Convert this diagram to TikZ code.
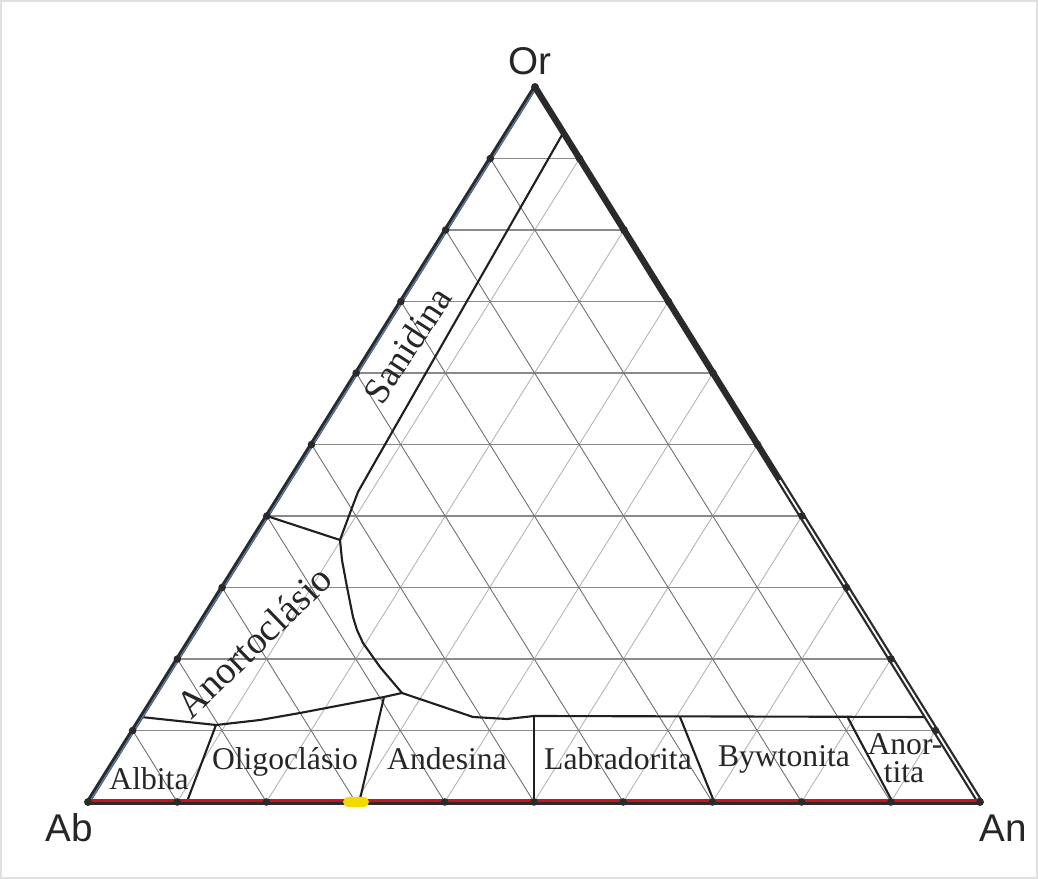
\documentclass[tikz,border=0pt]{standalone}
\usepackage{fontspec}
\setmainfont{Liberation Serif}
\newfontfamily\labsans{Liberation Sans}
\usetikzlibrary{calc}
\definecolor{gridD}{HTML}{6E6E6E}
\definecolor{gridL}{HTML}{B4B4B4}
\definecolor{gridH}{HTML}{8A8A8A}
\definecolor{edgec}{HTML}{2A2A2A}
\definecolor{redline}{HTML}{C81420}
\definecolor{yel}{HTML}{F5D800}
\definecolor{bluetint}{HTML}{5A7FB0}
\begin{document}
\begin{tikzpicture}[x=0.01cm,y=-0.01cm,
  hgrid/.style={draw=gridH,line width=0.3pt},
  dgrid/.style={draw=gridD,line width=0.25pt},
  lgrid/.style={draw=gridL,line width=0.25pt},
  bnd/.style={draw=black!88,line width=0.6pt,line join=round},
  vlab/.style={font=\labsans\fontsize{11}{12}\selectfont,text=black!85,inner sep=0pt},
  flab/.style={font=\fontsize{9}{10}\selectfont,text=black!85,inner sep=0pt,anchor=base},
  tdot/.style={fill=edgec,draw=none}]
\useasboundingbox (0,0) rectangle (1038,879);
\fill[white] (0,0) rectangle (1038,879);
\draw[black!12,line width=0.4pt] (1,1) rectangle (1037,878);
\coordinate (Ab) at (88,802);
\coordinate (An) at (980,802);
\coordinate (Or) at (535,87);
% grid
\foreach \k [evaluate=\k as \f using \k/10, evaluate=\k as \g using 1-\k/10] in {1,...,9} {
  \draw[hgrid] ($(Ab)!\f!(Or)$) -- ($(An)!\f!(Or)$);
  \draw[lgrid] ($(Ab)!\f!(An)$) -- ($(An)!\g!(Or)$);
  \draw[dgrid] ($(Ab)!\f!(An)$) -- ($(Ab)!\f!(Or)$);
}
% field boundaries
\coordinate (sTop) at (562,135);
\coordinate (kink) at (340,540);
\coordinate (node) at (402,693);
\coordinate (lA) at ($(Ab)!0.4!(Or)$);
\coordinate (lB) at (141,717);
\coordinate (alb) at (216,725);
\coordinate (oli) at (384,697);
\coordinate (lab) at (534,716);
\coordinate (rEnd) at (927,717);
\draw[bnd] (sTop) -- (375,462) -- (358,492) -- (350,513) -- (kink);
\draw[bnd] (lA) -- (kink);
\draw[bnd] (kink) -- (342,560) -- (347,587) -- (353,617) -- (357,630) -- (363,643) -- (380,667) -- (node);
\draw[bnd] (lB) -- (alb) -- (260,720) -- (300,713) -- (oli) -- (node);
\draw[bnd] (node) -- (473,717) -- (507,719) -- (lab) -- (rEnd);
\draw[bnd] (alb) -- (188,799);
\draw[bnd] (oli) -- (360,799);
\draw[bnd] (lab) -- (534,799);
\draw[bnd] (680,717) -- (713,799);
\draw[bnd] (848,718) -- (891,799);
% triangle edges
\draw[edgec,line width=1.3pt,line cap=round] (Ab) -- (Or);
\draw[bluetint,line width=0.35pt] ([xshift=0.015cm]Ab) -- ([xshift=0.015cm]Or);
\draw[edgec,line width=1.8pt,line cap=round] (Or) -- (An);
\draw[white,line width=0.5pt] ($(Or)!0.55!(An)$) -- ($(Or)!0.995!(An)$);
\draw[edgec,line width=1.5pt] (Ab) -- (An);
\draw[redline,line width=0.9pt] ([yshift=0.4pt]Ab) -- ([yshift=0.4pt]An);
% ticks
\foreach \k [evaluate=\k as \f using \k/10] in {0,...,10} {
  \fill[tdot] ($(Ab)!\f!(An)$) circle (3.8);
  \fill[tdot] ($(Ab)!\f!(Or)$) circle (3.8);
  \fill[tdot] ($(An)!\f!(Or)$) circle (3.8);
}
\fill[yel,rounded corners=1.5pt] (343,797) rectangle (369,807);
% vertex labels
\node[vlab,anchor=base] (tOr) at (530,75) {Or};
\node[vlab,anchor=base] (tAb) at (69,842) {Ab};
\node[vlab,anchor=base] (tAn) at (1003,842) {An};
% field labels
\node[flab] (fAlb) at (149,790) {Albita};
\node[flab] (fOli) at (285,770) {Oligoclásio};
\node[flab] (fAnd) at (447,770) {Andesina};
\node[flab] (fLab) at (618,770) {Labradorita};
\node[flab] (fByw) at (784,767) {Bywtonita};
\node[flab] (fAn1) at (905,755) {Anor-};
\node[flab] (fAn2) at (904,783) {tita};
\node[flab,font=\fontsize{10.5}{12}\selectfont,rotate=57] (fSan) at (418,352) {Sanidina};
\node[flab,font=\fontsize{11}{12}\selectfont,rotate=44] (fAno) at (263,651) {Anortoclásio};
\end{tikzpicture}
\end{document}
